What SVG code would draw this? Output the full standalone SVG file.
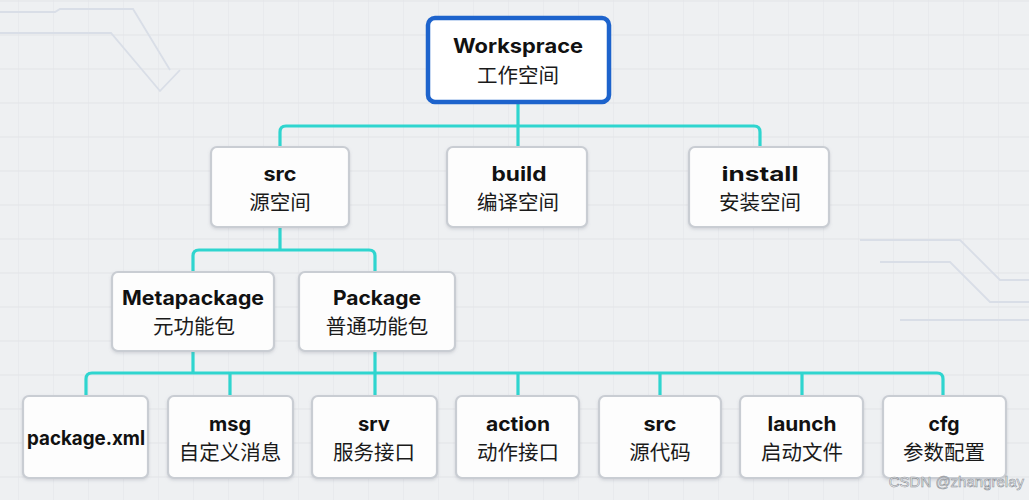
<svg xmlns="http://www.w3.org/2000/svg" width="1029" height="500" viewBox="0 0 1029 500">
<defs>
<pattern id="grid" x="18" y="0" width="35" height="34" patternUnits="userSpaceOnUse">
<path d="M0 0V34M0 1H35" fill="none" stroke="#e2e4e7" stroke-width="1"/>
</pattern>
<filter id="sh" x="-10%" y="-10%" width="120%" height="130%">
<feDropShadow dx="0" dy="1.5" stdDeviation="1.5" flood-color="#7a8090" flood-opacity="0.25"/>
</filter>
</defs>
<style>
.box{fill:#fdfdfd;stroke:#c9cdd3;stroke-width:2.2}
.root{fill:#ffffff;stroke:#1d63cc;stroke-width:4.5}
.t{font-family:Inter,"Noto Sans",sans-serif;font-weight:700;font-size:20px;fill:#111;text-anchor:middle}
.c{font-family:"Noto Sans CJK SC",sans-serif;font-weight:400;font-size:20.5px;fill:#1a1a1a;text-anchor:middle}
.ln{fill:none;stroke:#2fd5cf;stroke-width:3.2;stroke-linejoin:round}
.deco{fill:none;stroke:#d9dee7;stroke-width:1.8}
</style>
<rect width="1029" height="500" fill="#eef0f2"/>
<rect width="1029" height="500" fill="url(#grid)"/>
<g id="decor">
<path class="deco" d="M0 12H55L60 9H133L170 70"/>
<path class="deco" d="M0 33H111L160 91L180 70"/>
<path class="deco" d="M860 240H960L1000 280H1029"/>
<path class="deco" d="M880 262H950L990 302H1029"/>
<path class="deco" d="M900 320H1029"/>
</g>
<g id="connectors">
<path class="ln" d="M518 102V126"/>
<path class="ln" d="M280 147V132Q280 126 286 126H754Q760 126 760 132V147"/>
<path class="ln" d="M518 126V147"/>
<path class="ln" d="M280 227V250"/>
<path class="ln" d="M193 272V256Q193 250 199 250H369Q375 250 375 256V272"/>
<path class="ln" d="M193 351V373"/>
<path class="ln" d="M375 351V396"/>
<path class="ln" d="M86 396V379Q86 373 92 373H937Q943 373 943 379V396"/>
<path class="ln" d="M230 373V396M518 373V396M660 373V396M802 373V396"/>
</g>
<g id="workspace">
<rect class="root" x="428" y="18" width="181" height="84" rx="7"/>
<text class="t" x="518" y="53" font-size="21" textLength="130" lengthAdjust="spacingAndGlyphs">Worksprace</text>
<text class="c" x="518" y="83" font-size="21">工作空间</text>
</g>
<g id="src">
<rect class="box" x="211" y="147" width="138" height="80" rx="6" filter="url(#sh)"/>
<text class="t" x="280" y="181" textLength="33" lengthAdjust="spacingAndGlyphs">src</text>
<text class="c" x="280" y="210">源空间</text>
</g>
<g id="build">
<rect class="box" x="447" y="147" width="140" height="80" rx="6" filter="url(#sh)"/>
<text class="t" x="519" y="181" textLength="55" lengthAdjust="spacingAndGlyphs">build</text>
<text class="c" x="518" y="210">编译空间</text>
</g>
<g id="install">
<rect class="box" x="689" y="147" width="140" height="80" rx="6" filter="url(#sh)"/>
<text class="t" x="760" y="181" textLength="77" lengthAdjust="spacingAndGlyphs">install</text>
<text class="c" x="760" y="210">安装空间</text>
</g>
<g id="metapackage">
<rect class="box" x="112" y="272" width="162" height="79" rx="6" filter="url(#sh)"/>
<text class="t" x="193" y="305" textLength="142" lengthAdjust="spacingAndGlyphs">Metapackage</text>
<text class="c" x="194" y="334">元功能包</text>
</g>
<g id="package">
<rect class="box" x="299" y="272" width="156" height="79" rx="6" filter="url(#sh)"/>
<text class="t" x="377" y="305" textLength="88" lengthAdjust="spacingAndGlyphs">Package</text>
<text class="c" x="377" y="334">普通功能包</text>
</g>
<g id="packagexml">
<rect class="box" x="23" y="396" width="125" height="82" rx="6" filter="url(#sh)"/>
<text class="t" x="86" y="445" font-size="19" textLength="118" lengthAdjust="spacingAndGlyphs">package.xml</text>
</g>
<g id="msg">
<rect class="box" x="168" y="396" width="125" height="82" rx="6" filter="url(#sh)"/>
<text class="t" x="230" y="431" textLength="42" lengthAdjust="spacingAndGlyphs">msg</text>
<text class="c" x="230" y="460">自定义消息</text>
</g>
<g id="srv">
<rect class="box" x="312" y="396" width="125" height="82" rx="6" filter="url(#sh)"/>
<text class="t" x="374" y="431" textLength="32" lengthAdjust="spacingAndGlyphs">srv</text>
<text class="c" x="374" y="460">服务接口</text>
</g>
<g id="action">
<rect class="box" x="456" y="396" width="123" height="82" rx="6" filter="url(#sh)"/>
<text class="t" x="518" y="431" textLength="64" lengthAdjust="spacingAndGlyphs">action</text>
<text class="c" x="518" y="460">动作接口</text>
</g>
<g id="src2">
<rect class="box" x="599" y="396" width="122" height="82" rx="6" filter="url(#sh)"/>
<text class="t" x="660" y="431" textLength="33" lengthAdjust="spacingAndGlyphs">src</text>
<text class="c" x="660" y="460">源代码</text>
</g>
<g id="launch">
<rect class="box" x="740" y="396" width="123" height="82" rx="6" filter="url(#sh)"/>
<text class="t" x="802" y="431" textLength="69" lengthAdjust="spacingAndGlyphs">launch</text>
<text class="c" x="802" y="460">启动文件</text>
</g>
<g id="cfg">
<rect class="box" x="883" y="396" width="123" height="82" rx="6" filter="url(#sh)"/>
<text class="t" x="944" y="431" textLength="31" lengthAdjust="spacingAndGlyphs">cfg</text>
<text class="c" x="944" y="460">参数配置</text>
</g>
<text x="1024" y="487" text-anchor="end" font-family="Liberation Sans, sans-serif" font-size="15" fill="#ffffff" stroke="#8a8f96" stroke-width="0.6">CSDN @zhangrelay</text>
</svg>
